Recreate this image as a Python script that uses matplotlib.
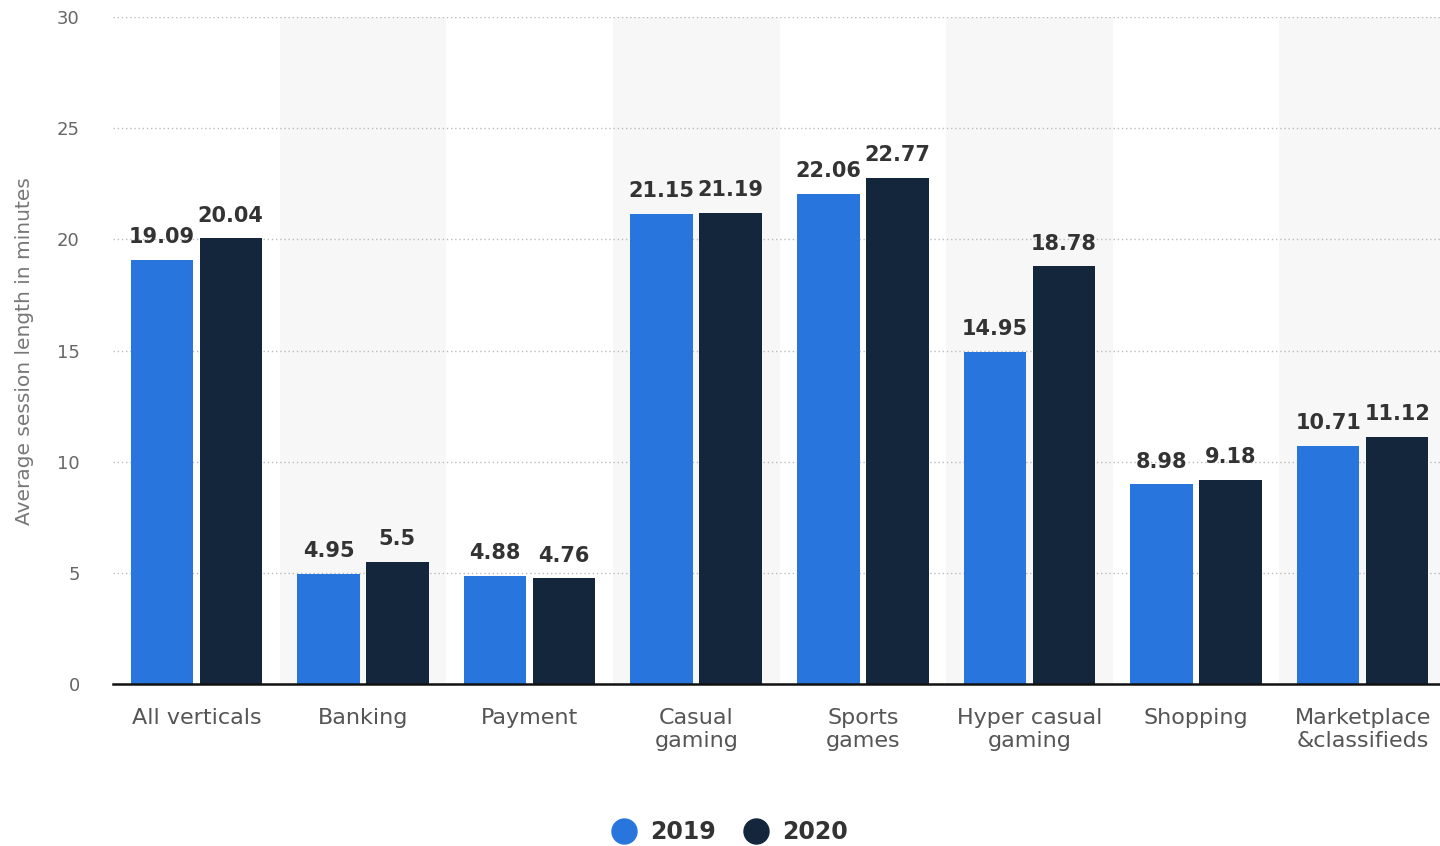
import matplotlib
matplotlib.use("Agg")
import matplotlib.pyplot as plt
from matplotlib.lines import Line2D
import numpy as np

categories = ["All verticals", "Banking", "Payment", "Casual\ngaming", "Sports\ngames",
              "Hyper casual\ngaming", "Shopping", "Marketplace\n&classifieds"]
values_2019 = [19.09, 4.95, 4.88, 21.15, 22.06, 14.95, 8.98, 10.71]
values_2020 = [20.04, 5.5, 4.76, 21.19, 22.77, 18.78, 9.18, 11.12]
series_names = ["2019", "2020"]
yticks = [0, 5, 10, 15, 20, 25, 30]

c2019 = "#2876dd"
c2020 = "#13263b"

plt.rcParams['font.family'] = ['DejaVu Sans']

fig = plt.figure(figsize=(14.4, 8.46), dpi=100)
ax = fig.add_axes([113/1440, 1-684/846, (1446-113)/1440, (684-17)/846])

x = np.arange(len(categories))
w = 0.375
off = 0.207

for i in range(len(categories)):
    if i % 2 == 1:
        ax.axvspan(i-0.5, i+0.5, color="#f7f7f7", zorder=0, lw=0)

b1 = ax.bar(x-off, values_2019, w, color=c2019, zorder=3)
b2 = ax.bar(x+off, values_2020, w, color=c2020, zorder=3)

for bars, vals in ((b1, values_2019), (b2, values_2020)):
    for rect, v in zip(bars, vals):
        ax.annotate(f"{v:g}", (rect.get_x()+rect.get_width()/2, v),
                    xytext=(0, 9), textcoords="offset points",
                    ha="center", va="bottom", fontsize=15, fontweight="bold",
                    color="#333333", zorder=4)

ax.set_xlim(-0.5, len(categories)-0.5)
ax.set_ylim(0, 30)
ax.set_yticks(yticks)
ax.set_yticklabels([str(t) for t in yticks])
ax.set_xticks(x)
ax.set_xticklabels(categories, fontsize=16, color="#555555", linespacing=1.2)
ax.tick_params(axis="x", length=0, pad=17)
ax.tick_params(axis="y", length=0, pad=24, labelsize=13, labelcolor="#666666")
ax.yaxis.grid(True, linestyle=(0, (1, 2)), color="#bbbbbb", lw=1, zorder=1)
ax.set_axisbelow(True)
for s in ["left", "right", "top"]:
    ax.spines[s].set_visible(False)
ax.spines["bottom"].set_color("#111111")
ax.spines["bottom"].set_linewidth(1.8)
ax.spines["bottom"].set_zorder(5)

fig.text(25/1440, 1-351/846, "Average session length in minutes", rotation=90,
         ha="center", va="center", fontsize=14.5, color="#777777")

handles = [Line2D([], [], marker="o", ls="", markersize=18, color=c2019),
           Line2D([], [], marker="o", ls="", markersize=18, color=c2020)]
leg = fig.legend(handles, series_names, loc="center", bbox_to_anchor=(730/1440, 1-832/846),
                 ncol=2, frameon=False, fontsize=17, handletextpad=0.6, columnspacing=1.2,
                 handlelength=1.0)
for t in leg.get_texts():
    t.set_fontweight("bold")
    t.set_color("#333333")

fig.savefig("out.png", dpi=100)
